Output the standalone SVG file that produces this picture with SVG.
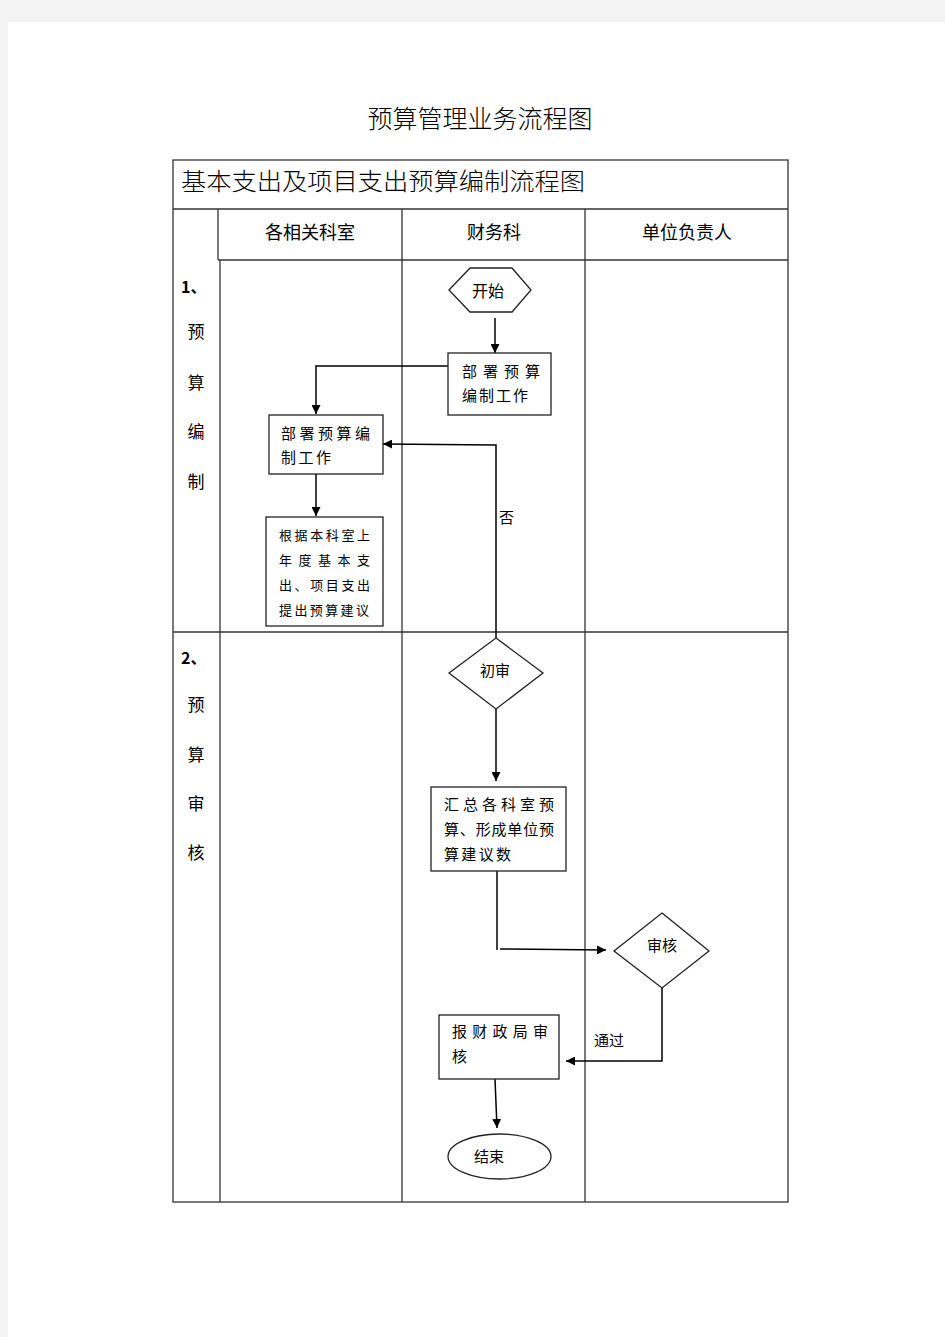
<svg xmlns="http://www.w3.org/2000/svg" width="945" height="1337" viewBox="0 0 945 1337">
<defs>
<marker id="arr" viewBox="0 0 10 10" refX="10" refY="5" markerWidth="9" markerHeight="9" markerUnits="userSpaceOnUse" orient="auto">
<path d="M0,0 L10,5 L0,10 z" fill="#000"/>
</marker>
<style>
.t{font-family:"Noto Sans CJK SC","Liberation Sans",sans-serif;fill:#000}
.grid{stroke:#333;stroke-width:1.3;fill:none}
.node{fill:#fff;stroke:#222;stroke-width:1.3}
.conn{stroke:#000;stroke-width:1.5;fill:none}
.lane{font-size:18px;text-anchor:middle}
.side{font-size:17px;text-anchor:middle}
.nt{font-size:15px}
.sm{font-size:13px}
</style>
</defs>
<rect width="945" height="1337" fill="#f3f3f3"/>
<rect x="8" y="22" width="937" height="1315" fill="#fff"/>
<text class="t" x="480" y="128" font-size="25" text-anchor="middle" font-weight="300" textLength="225" lengthAdjust="spacingAndGlyphs">预算管理业务流程图</text>

<g id="table">
<rect class="grid" x="173" y="160" width="615" height="1042"/>
<line class="grid" x1="173" y1="209" x2="788" y2="209"/>
<line class="grid" x1="218" y1="209" x2="218" y2="260"/>
<line class="grid" x1="218" y1="260" x2="788" y2="260"/>
<line class="grid" x1="220" y1="260" x2="220" y2="1202"/>
<line class="grid" x1="402" y1="209" x2="402" y2="1202"/>
<line class="grid" x1="585" y1="209" x2="585" y2="1202"/>
<line class="grid" x1="173" y1="632" x2="788" y2="632"/>
<text class="t" x="181" y="190" font-size="24" font-weight="300" textLength="404" lengthAdjust="spacingAndGlyphs">基本支出及项目支出预算编制流程图</text>
<text class="t lane" x="310" y="239">各相关科室</text>
<text class="t lane" x="494" y="239">财务科</text>
<text class="t lane" x="687" y="239">单位负责人</text>
<text class="t" x="181" y="293" font-size="16" font-weight="bold">1、</text>
<text class="t side" x="196" y="338">预</text>
<text class="t side" x="196" y="389">算</text>
<text class="t side" x="196" y="438">编</text>
<text class="t side" x="196" y="488">制</text>
<text class="t" x="181" y="664" font-size="16" font-weight="bold">2、</text>
<text class="t side" x="196" y="711">预</text>
<text class="t side" x="196" y="761">算</text>
<text class="t side" x="196" y="810">审</text>
<text class="t side" x="196" y="859">核</text>
</g>

<g id="connectors">
<line class="conn" x1="495" y1="318" x2="495" y2="353" marker-end="url(#arr)"/>
<polyline class="conn" points="448,366 316,366 316,414" marker-end="url(#arr)"/>
<line class="conn" x1="316" y1="474" x2="316" y2="516" marker-end="url(#arr)"/>
<polyline class="conn" points="496,638 496,445 383,444" marker-end="url(#arr)"/>
<text class="t" x="499" y="523" font-size="15">否</text>
<line class="conn" x1="496" y1="709" x2="496" y2="781" marker-end="url(#arr)"/>
<line class="conn" x1="497" y1="871" x2="497" y2="950"/>
<line class="conn" x1="500" y1="949" x2="606" y2="950" marker-end="url(#arr)"/>
<polyline class="conn" points="662,988 662,1061 566,1061" marker-end="url(#arr)"/>
<text class="t" x="594" y="1046" font-size="15">通过</text>
<line class="conn" x1="495" y1="1079" x2="497" y2="1128" marker-end="url(#arr)"/>
</g>

<g id="start">
<polygon class="node" stroke="#555" points="449,290 470,268 512,268 531,290 512,312 470,312"/>
<text class="t" x="488" y="297" font-size="16" text-anchor="middle">开始</text>
</g>
<g id="deploy-finance">
<rect class="node" x="448" y="353" width="103" height="62"/>
<text class="t nt" x="462" y="377" textLength="78" lengthAdjust="spacing">部署预算</text>
<text class="t nt" x="462" y="401" textLength="66" lengthAdjust="spacing">编制工作</text>
</g>
<g id="deploy-dept">
<rect class="node" x="269" y="415" width="114" height="59"/>
<text class="t nt" x="281" y="439" textLength="89" lengthAdjust="spacing">部署预算编</text>
<text class="t nt" x="281" y="463" textLength="50" lengthAdjust="spacing">制工作</text>
</g>
<g id="proposal">
<rect class="node" x="266" y="517" width="117" height="109"/>
<text class="t sm" x="279" y="540" textLength="91" lengthAdjust="spacing">根据本科室上</text>
<text class="t sm" x="279" y="565" textLength="91" lengthAdjust="spacing">年度基本支</text>
<text class="t sm" x="279" y="590" textLength="91" lengthAdjust="spacing">出、项目支出</text>
<text class="t sm" x="279" y="615" textLength="90" lengthAdjust="spacing">提出预算建议</text>
</g>
<g id="first-review">
<polygon class="node" points="496,638 543,673 496,709 449,673"/>
<text class="t" x="495" y="676" font-size="15" text-anchor="middle">初审</text>
</g>
<g id="summary">
<rect class="node" x="431" y="787" width="135" height="84"/>
<text class="t nt" x="444" y="810" textLength="110" lengthAdjust="spacing">汇总各科室预</text>
<text class="t nt" x="444" y="835" textLength="110" lengthAdjust="spacing">算、形成单位预</text>
<text class="t nt" x="444" y="860" textLength="67" lengthAdjust="spacing">算建议数</text>
</g>
<g id="review">
<polygon class="node" points="662,913 709,951 662,988 614,951"/>
<text class="t" x="662" y="951" font-size="15" text-anchor="middle">审核</text>
</g>
<g id="submit">
<rect class="node" x="439" y="1015" width="120" height="64"/>
<text class="t nt" x="452" y="1037" textLength="96" lengthAdjust="spacing">报财政局审</text>
<text class="t nt" x="452" y="1062">核</text>
</g>
<g id="end">
<ellipse class="node" cx="499.5" cy="1156.5" rx="51.5" ry="22.5"/>
<text class="t" x="489" y="1162" font-size="15" text-anchor="middle">结束</text>
</g>
</svg>
